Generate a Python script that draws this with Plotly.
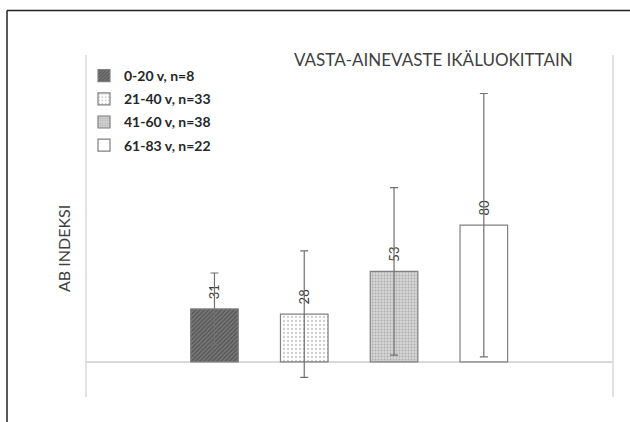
import plotly.graph_objects as go

categories = ["0-20 v, n=8", "21-40 v, n=33", "41-60 v, n=38", "61-83 v, n=22"]
values = [31, 28, 53, 80]
errors = [21, 37, 49, 77]
title_text = "VASTA-AINEVASTE IKÄLUOKITTAIN"
y_title = "AB INDEKSI"

patterns = [
    dict(shape="/", fgcolor="#333333", bgcolor="#7a7a7a", size=3, solidity=0.5),
    dict(shape=".", fgcolor="#9a9a9a", bgcolor="#ffffff", size=4, solidity=0.25),
    dict(shape=".", fgcolor="#8a8a8a", bgcolor="#d4d4d4", size=3, solidity=0.35),
    dict(shape="", fgcolor="#ffffff", bgcolor="#ffffff"),
]

fig = go.Figure()
for i, (cat, v, e) in enumerate(zip(categories, values, errors)):
    fig.add_trace(go.Bar(
        x=[cat], y=[v], name=cat, legendgroup=cat,
        width=0.53,
        marker=dict(color="#ffffff", line=dict(color="#808080", width=1.2), pattern=patterns[i]),
        error_y=dict(type="data", array=[e], visible=True, color="#707070", thickness=1.2, width=4),
        texttemplate="\u00a0\u00a0%{y}", textposition="outside", textangle=-90,
        textfont=dict(family="Lato, Open Sans, sans-serif", size=13, color="#404040"),
        cliponaxis=False,
    ))

L, R, T, B = 86, 17, 55, 25
W, H = 630, 422
pw, ph = W - L - R, H - T - B

def px_x(x):
    return (x - L) / pw

def px_y(y):
    return (H - B - y) / ph

fig.update_layout(
    width=W, height=H,
    margin=dict(l=L, r=R, t=T, b=B, pad=0),
    paper_bgcolor="white", plot_bgcolor="white",
    barmode="overlay",
    showlegend=True,
    legend=dict(x=px_x(84), y=px_y(60), xanchor="left", yanchor="top",
                font=dict(family="Lato, Open Sans, sans-serif", size=14, color="#262626", weight="bold"),
                bgcolor="rgba(0,0,0,0)", tracegroupgap=2, itemwidth=30),
    xaxis=dict(type="category", categoryorder="array", categoryarray=categories,
               range=[-1.431, 4.439], showticklabels=False, showgrid=False,
               zeroline=False, showline=False, ticks=""),
    yaxis=dict(range=[-20.5, 179.5], showticklabels=False, showgrid=False,
               zeroline=True, zerolinecolor="#d9d9d9", zerolinewidth=1.5,
               showline=False, ticks=""),
    annotations=[
        dict(text=title_text, x=px_x(433), y=px_y(60), xref="paper", yref="paper",
             xanchor="center", yanchor="middle", showarrow=False,
             font=dict(family="Lato, Open Sans, sans-serif", size=17, color="#404040")),
        dict(text=y_title, x=px_x(63), y=px_y(249), xref="paper", yref="paper",
             xanchor="center", yanchor="middle", showarrow=False, textangle=-90,
             font=dict(family="Lato, Open Sans, sans-serif", size=16, color="#404040")),
    ],
    shapes=[
        dict(type="line", xref="paper", yref="paper", x0=0, x1=0, y0=0, y1=1,
             line=dict(color="#d9d9d9", width=1.5)),
        dict(type="line", xref="paper", yref="paper", x0=1, x1=1, y0=0, y1=1,
             line=dict(color="#d9d9d9", width=1.5)),
        dict(type="line", xref="paper", yref="paper", x0=px_x(7), x1=px_x(640), y0=px_y(10.5), y1=px_y(10.5),
             line=dict(color="#222222", width=1.5)),
        dict(type="line", xref="paper", yref="paper", x0=px_x(7), x1=px_x(7), y0=px_y(10.5), y1=px_y(430),
             line=dict(color="#222222", width=1.5)),
    ],
)

fig.write_html("out.html", config={"displayModeBar": False},
               post_script="document.body.style.margin='0';")
